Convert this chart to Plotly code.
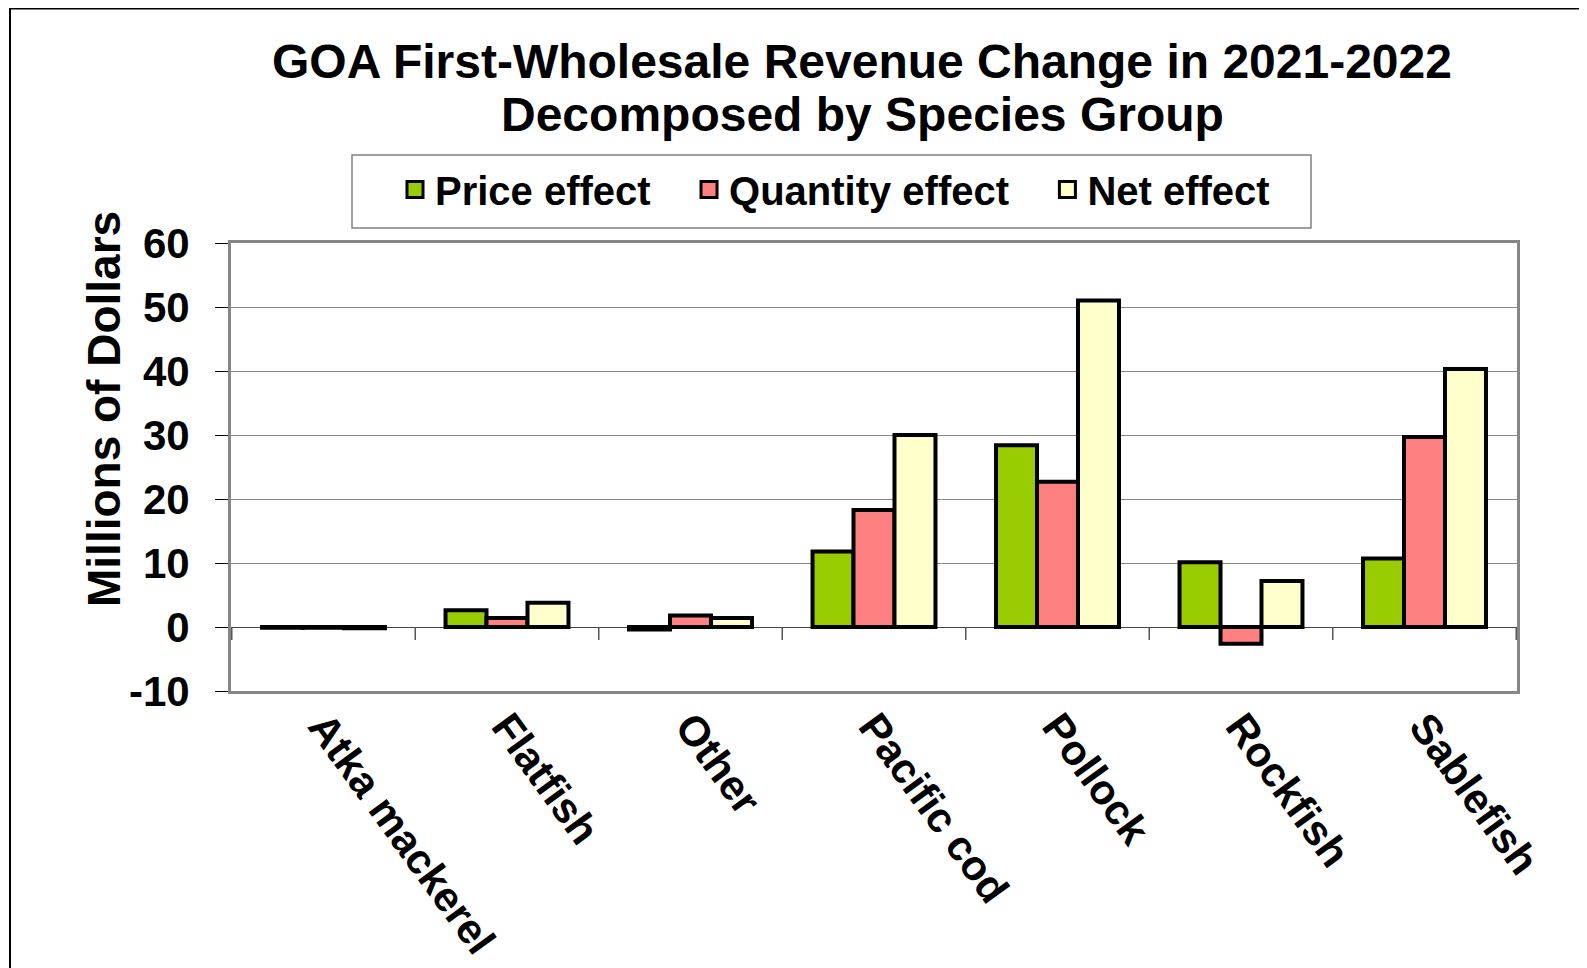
import plotly.graph_objects as go

categories = ["Atka mackerel", "Flatfish", "Other", "Pacific cod", "Pollock", "Rockfish", "Sablefish"]
price_effect = [-0.1, 2.6, -0.4, 11.8, 28.4, 10.1, 10.7]
quantity_effect = [-0.1, 1.4, 1.8, 18.3, 22.7, -2.6, 29.7]
net_effect = [-0.2, 3.8, 1.4, 30.0, 51.0, 7.2, 40.3]
series_names = ["Price effect", "Quantity effect", "Net effect"]
series_colors = ["#99CC00", "#FF8080", "#FFFFCC"]
y_ticks = [-10, 0, 10, 20, 30, 40, 50, 60]
y_ticktext = [str(v) for v in y_ticks]

W, H = 1587, 968
OFF = 8  # page body margin
# plot area in page pixels
PL, PR, PT, PB = 231, 1517, 243, 691
L, T = PL - OFF, PT - OFF
R, B = W - (PR - OFF), H - (PB - OFF)
PW, PH = W - L - R, H - T - B


def px_x(px):
    return (px - OFF - L) / PW


def px_y(py):
    return (H - B - (py - OFF)) / PH


FONT = "Liberation Sans, Arial, sans-serif"
NB = "\u00a0"

fig = go.Figure()
for name, vals, col in zip(series_names, [price_effect, quantity_effect, net_effect], series_colors):
    fig.add_trace(go.Bar(
        x=categories, y=vals, name=name, marker=dict(color=col, line=dict(color="black", width=4)),
        showlegend=False,
    ))
# legend entries
for name, col in zip(series_names, series_colors):
    fig.add_trace(go.Scatter(
        x=[None], y=[None], mode="markers", name=name + NB * 3,
        marker=dict(symbol="square", size=16, color=col, line=dict(color="black", width=3)),
    ))

shapes = []
# outer frame
shapes.append(dict(type="rect", xref="paper", yref="paper", x0=px_x(10), x1=px_x(1700), y0=px_y(1100), y1=px_y(OFF + 0.5),
                   line=dict(color="black", width=2), fillcolor="rgba(0,0,0,0)", layer="below"))
# legend box
shapes.append(dict(type="rect", xref="paper", yref="paper", x0=px_x(352), x1=px_x(1311), y0=px_y(228), y1=px_y(155),
                   line=dict(color="#808080", width=1.5), fillcolor="rgba(0,0,0,0)"))
# category separator ticks at the zero line
for i in range(len(categories) + 1):
    shapes.append(dict(type="line", xref="x", yref="y", x0=i - 0.5, x1=i - 0.5, y0=0, y1=-13,
                       ysizemode="pixel", yanchor=0, line=dict(color="#555555", width=1.5)))

title_font = dict(family=FONT, size=48, color="black", weight="bold")
annotations = [
    dict(text="GOA First-Wholesale Revenue Change in 2021-2022", xref="paper", yref="paper",
         x=px_x(862), y=px_y(62), xanchor="center", yanchor="middle", showarrow=False, font=title_font),
    dict(text="Decomposed by Species Group", xref="paper", yref="paper",
         x=px_x(862), y=px_y(115), xanchor="center", yanchor="middle", showarrow=False, font=title_font),
    dict(text="Millions of Dollars", textangle=-90, xref="paper", yref="paper",
         x=px_x(104), y=px_y(409), xanchor="center", yanchor="middle", showarrow=False,
         font=dict(family=FONT, size=46, color="black", weight="bold")),
]

fig.update_layout(
    width=W, height=H,
    margin=dict(l=L, r=R, t=T, b=B, autoexpand=False),
    paper_bgcolor="white", plot_bgcolor="white",
    barmode="group", bargap=0.33, bargroupgap=0,
    font=dict(family=FONT, color="black", size=40, weight="bold"),
    legend=dict(orientation="h", x=px_x(395), y=px_y(157), xanchor="left", yanchor="top",
                bgcolor="rgba(0,0,0,0)", borderwidth=0,
                font=dict(family=FONT, size=40, color="black", weight="bold"),
                itemsizing="trace"),
    shapes=shapes,
    annotations=annotations,
)
fig.update_xaxes(
    type="category", tickangle=54, showline=True, mirror=True, linecolor="#868686", linewidth=3,
    ticks="", showgrid=False, ticklabelstandoff=-9,
    tickfont=dict(family=FONT, size=42, color="black", weight="bold"),
)
fig.update_yaxes(
    range=[-10, 60], tickvals=y_ticks, ticktext=y_ticktext, ticks="outside", ticklen=13, tickcolor="black", tickwidth=1,
    showline=True, mirror=True, linecolor="#868686", linewidth=3,
    showgrid=True, gridcolor="#888888", gridwidth=1,
    zeroline=True, zerolinecolor="#444444", zerolinewidth=1.2,
    ticklabelstandoff=17,
    tickfont=dict(family=FONT, size=42, color="black", weight="bold"),
)
fig.write_html("out.html")
